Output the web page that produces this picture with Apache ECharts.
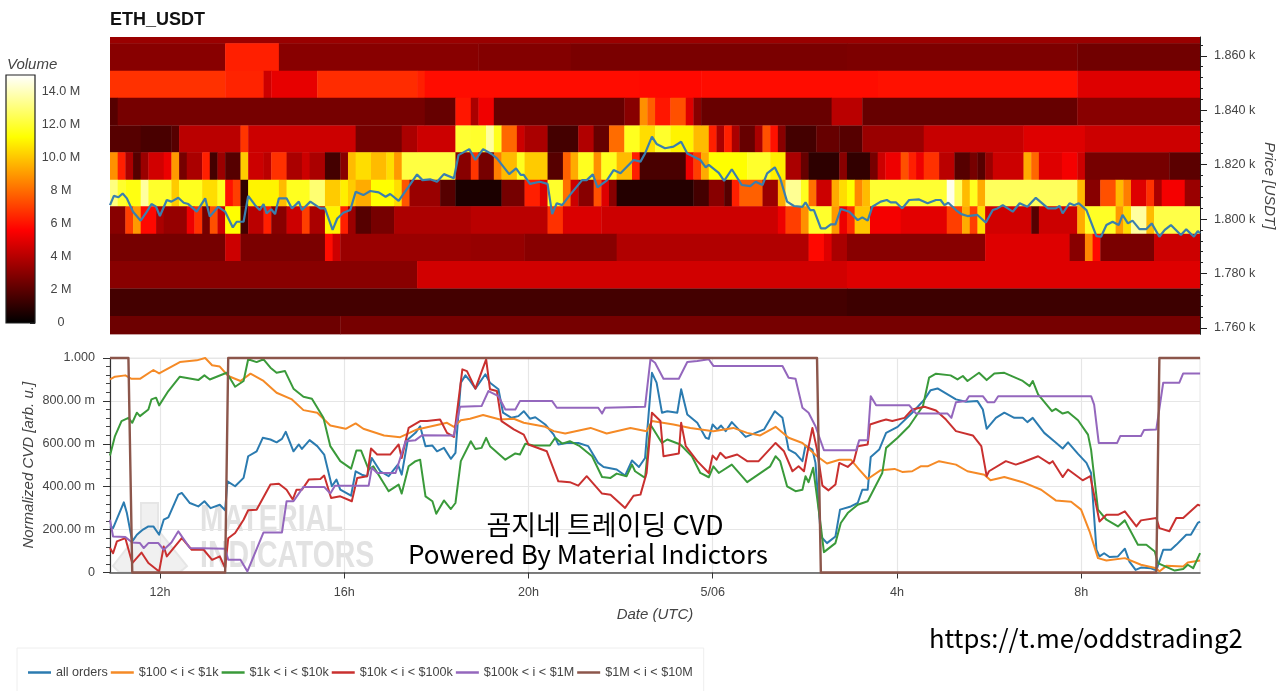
<!DOCTYPE html>
<html><head><meta charset="utf-8">
<style>html,body{margin:0;padding:0;background:#fff}#c{width:1280px;height:691px}</style>
<script src="https://cdn.jsdelivr.net/npm/echarts@6/dist/echarts.min.js"></script>
</head><body><div id="c"></div>
<script>
// Time: hours since 00:00 on 5/05; data are addressed by 10-minute bin since the first bin.
const firstHour = 10.915;
const lastHour = 34.58;
const timeTicks = [12,16,20,24,28,32];
const timeLabels = ['12h','16h','20h','5/06','4h','8h'];
const priceMin = 1757.6, priceMax = 1866.9;
const priceMajor = [1760,1780,1800,1820,1840,1860];
const priceMinor = [1760,1764,1768,1772,1776,1780,1784,1788,1792,1796,1800,1804,1808,1812,1816,1820,1824,1828,1832,1836,1840,1844,1848,1852,1856,1860,1864];
const volumeTicks = [0,2e6,4e6,6e6,8e6,10e6,12e6,14e6];
const volumeMax = 15e6;
const cvdLabels = {0:'0',0.2:'200.00 m',0.4:'400.00 m',0.6:'600.00 m',0.8:'800.00 m',1:'1.000'};
// price-bin edges, top to bottom
const rowEdges = [1866.9,1864.6,1854.5,1844.6,1834.4,1824.5,1814.4,1804.7,1794.6,1784.6,1774.5,1764.4,1757.6];
// each row: [end bin, volume in M] runs
const rowTop = [[142,3.4]];
const row1860 = [[15,3],[22,6.3],[48,3],[60,2.9],[96,2.7],[126,2.75],[142,2.5]];
const row1850 = [[15,6.7],[20,6.4],[21,4.5],[27,5.1],[40,6.6],[41,6.3],[69,5.9],[77,5.8],[100,5.9],[126,6],[142,4.9]];
const row1840 = [[1,1.9],[41,2.6],[45,2.25],[47,6.1],[48,3.75],[50,5.3],[67,2.25],[69,3],[70,8.8],[71,7.7],[73,6.1],[75,7.4],[76,4.9],[77,3],[94,2.3],[98,4.1],[126,2.25],[142,3]];
const row1830 = [[4,1.9],[8,1.6],[9,1.9],[17,4.1],[18,6.8],[32,4.5],[38,2.6],[40,3.75],[45,4.5],[47,12],[49,11.9],[50,13.6],[51,11.7],[53,7.9],[54,4.5],[57,3.75],[61,1.5],[63,3.9],[65,2.25],[67,8],[69,11.7],[71,10.5],[73,11.9],[76,11],[78,9.75],[79,6.3],[80,3.75],[81,6.3],[82,3.75],[84,2.25],[85,3.75],[86,7.4],[87,6],[88,3],[92,1.5],[95,2.25],[98,1.9],[106,3.4],[119,4.4],[127,4.9],[142,4.5]];
const row1820 = [[1,8.8],[2,6.3],[3,3.75],[4,1.9],[5,3.4],[7,4.6],[8,5.2],[9,9],[10,2.6],[12,3.75],[13,6.3],[14,1.5],[15,3.4],[17,1.9],[18,10.1],[20,4.5],[21,4.1],[23,6.7],[25,3.75],[26,4.5],[28,3.75],[30,1.5],[31,3],[32,9.75],[34,10.5],[36,9.75],[37,10.5],[38,9],[45,12.2],[47,3],[48,6.8],[50,2.6],[51,8.4],[53,9.75],[54,11.7],[57,10.1],[59,1.9],[60,7.75],[61,9.4],[63,11.7],[64,8.8],[66,11.7],[68,9.75],[69,6.3],[75,1.6],[76,5.25],[77,7],[78,9.4],[83,11.25],[86,11.9],[88,10.9],[90,3.75],[91,2.25],[95,1],[96,3],[99,1.1],[100,2.6],[101,4.5],[103,5.25],[104,7.4],[105,6.3],[106,5.25],[108,6.7],[110,4.1],[112,1.9],[113,2.6],[114,1.9],[115,3.4],[119,4.5],[120,9.4],[121,7.9],[124,4.9],[126,5.4],[127,4.5],[138,2.6],[142,2]];
const row1810 = [[1,13.1],[2,11.9],[4,11.5],[5,13.6],[8,11.9],[9,10.1],[12,11.7],[14,10.5],[15,11.7],[16,6],[17,7],[18,1.1],[22,11],[23,9.75],[26,11.7],[28,12.9],[30,10.1],[31,10.9],[32,10.1],[34,9.4],[37,11.25],[38,10.5],[39,7.5],[43,3.4],[45,1.9],[51,.6],[54,2.6],[56,6.3],[57,4.9],[59,11.9],[60,8.1],[61,4.5],[63,3],[64,7.4],[65,4.9],[66,3],[76,.8],[78,1.5],[80,3],[81,1.9],[82,6.3],[85,7.75],[87,3.4],[88,9.4],[90,13.4],[91,11.7],[92,8.1],[94,4.5],[95,9.4],[96,10.5],[97,11.25],[98,8.6],[99,9.75],[109,12],[110,14.7],[111,12.6],[112,9.75],[113,11.7],[114,9.4],[126,12.6],[127,9.75],[129,3],[131,7.4],[132,9.75],[133,8.4],[135,4.9],[136,6.7],[137,3.75],[140,5.4],[142,3.4]];
const row1800 = [[2,3],[3,7],[4,9],[6,5.8],[7,3.75],[10,3.3],[11,5.25],[12,6.7],[13,2.6],[14,7.4],[15,4.5],[17,11.25],[18,1.5],[20,4.1],[21,6.3],[23,3],[25,4.5],[26,7],[28,3.75],[30,11],[31,6.3],[32,3.4],[34,1.9],[37,2.6],[47,3.8],[57,4.1],[59,6.7],[64,4.8],[87,4.5],[88,5.25],[90,7],[91,8.8],[94,11.9],[95,9],[96,5.25],[97,6.6],[99,10],[103,5.4],[109,5],[111,7],[112,9.4],[113,7],[114,10.5],[120,4.6],[121,1.9],[126,4.5],[127,9.4],[131,11.8],[132,9],[133,10.5],[135,13.6],[136,9.75],[142,12.3]];
const row1790 = [[15,2.6],[17,4.5],[28,2.7],[29,5.9],[30,4.5],[47,3.4],[54,3.3],[66,3],[91,3.9],[93,5.8],[94,4.9],[96,3.75],[114,3],[125,4.9],[127,3],[128,8.6],[129,5.8],[136,2.7],[142,4.5]];
const row1780 = [[40,3],[96,4.6],[142,4.9]];
const row1770 = [[96,1.5],[142,1.35]];
const row1760 = [[30,2.4],[142,2.6]];
const heatRows = [rowTop,row1860,row1850,row1840,row1830,row1820,row1810,row1800,row1790,row1780,row1770,row1760];
// price line [bin, USDT]
const priceLine = [[0,1805.1],[.5,1808.5],[1.1,1808],[1.65,1809.4],[2.2,1807.6],[3,1802.7],[4,1799.4],[4.8,1802.7],[5.4,1805.5],[6,1804.5],[6.5,1801.1],[7.4,1807],[8,1806.4],[8.9,1807.8],[9.6,1806],[10.2,1805.5],[11.3,1802.7],[12.4,1807.6],[13,1800.9],[14.1,1804.5],[15,1802.7],[16,1796.9],[16.5,1799],[17.4,1799],[18,1808.5],[18.9,1805.1],[19.5,1803.3],[20,1805.5],[20.4,1802.1],[21,1803.6],[21.5,1801.8],[22,1807.6],[23,1807.6],[23.7,1803.9],[24.6,1806.4],[25,1803.3],[26.1,1806.4],[27.4,1803.9],[28,1803.9],[29,1796],[29.6,1800.2],[30.4,1802.3],[31.3,1803.3],[32,1810],[33,1808.8],[33.9,1810.3],[35,1809.8],[35.9,1808.2],[36.5,1809.2],[37.6,1806.7],[38.9,1811.9],[40,1816.4],[40.7,1814.3],[41.7,1814.6],[42.6,1813.7],[43.5,1816.5],[44.8,1815],[45.4,1823.5],[46.8,1825.7],[47.6,1821.7],[48.6,1825.7],[49.7,1823.9],[50.4,1822.3],[52,1816.5],[52.9,1818.6],[53.5,1816.2],[53.9,1816.2],[54.7,1812.9],[56,1813.7],[57,1812.9],[57.6,1801.8],[58.2,1805.8],[58.9,1805.1],[59.9,1808.8],[61.5,1814.3],[62.1,1814.3],[62.9,1816.4],[63.5,1811.6],[64.7,1814.1],[65.6,1818],[66.5,1816.8],[68.2,1821.7],[69.1,1821.1],[69.7,1824.1],[70.6,1830.3],[71.2,1827.6],[72.3,1826],[73.4,1826.6],[74.4,1828.4],[75.2,1824.1],[76.9,1821.7],[77.6,1819],[78,1819.9],[79.3,1817],[80,1814],[81,1818.3],[82.3,1812.5],[83.4,1812.1],[84.1,1813.7],[85,1812.5],[85.6,1816.8],[86.6,1819],[87.3,1815],[88.2,1806.4],[89.1,1804.8],[90.2,1804.5],[90.6,1806.1],[91.2,1803.3],[91.7,1803.3],[92.6,1796.6],[93.2,1796.6],[93.9,1798],[94.5,1798],[95.2,1803.7],[96.3,1802.7],[97.4,1799.6],[98,1800.6],[98.7,1799.4],[99.3,1804.5],[100.4,1806.4],[101.2,1807],[101.7,1806.1],[102.4,1806.1],[103.2,1803.9],[104.1,1807],[105.4,1807.2],[106.5,1805.8],[107.6,1807],[108.2,1807],[108.7,1805.1],[109.2,1806],[110.2,1803.3],[110.9,1801.8],[111.7,1801.1],[113,1801.5],[114.1,1798.7],[115,1803.3],[115.6,1803.9],[116.3,1805.1],[117.6,1802.7],[118.5,1805.8],[119.5,1804.5],[120.6,1807.8],[122.2,1803.9],[123.2,1803.9],[123.7,1804.8],[124.1,1802.1],[125,1805.8],[125.6,1805.1],[126.2,1805.8],[127.2,1803.3],[128.5,1793.7],[129.1,1793.5],[129.8,1797.8],[130.6,1799],[131.4,1797.8],[131.9,1801.5],[132.6,1798.4],[133.2,1799.4],[134.1,1796.3],[135,1796.3],[135.7,1798.4],[136.7,1793.5],[137.4,1796],[138.2,1797.8],[139.5,1794.1],[140.2,1796.2],[141.2,1793.5],[141.7,1795.6],[142,1794.8]];
// normalized CVD [bin, value]
const allOrders = [[0,.215],[.4,.207],[1.8,.327],[2.2,.277],[2.9,.145],[3.5,.176],[4.3,.2],[5,.215],[5.65,.215],[6.4,.176],[7,.246],[7.6,.257],[8.9,.363],[9.35,.371],[10.4,.324],[11.5,.308],[12.3,.332],[13.1,.3],[14.3,.316],[15,.29],[15.3,.425],[16.3,.402],[17.4,.441],[18,.542],[19.1,.565],[19.9,.628],[20.9,.62],[21.7,.607],[22.4,.623],[22.9,.656],[23.9,.565],[24.6,.597],[25,.576],[26,.617],[27,.589],[27.9,.55],[28.9,.402],[29.5,.433],[30,.386],[31.4,.358],[32,.472],[32.8,.456],[33.5,.449],[34.1,.534],[35.2,.472],[36.3,.449],[37.5,.503],[38,.456],[38.8,.62],[39.8,.651],[40.4,.682],[41.1,.589],[42,.592],[42.6,.565],[43.5,.581],[44.4,.53],[45,.558],[45.7,.885],[46.3,.919],[46.9,.893],[47.6,.857],[48.9,.924],[49.5,.885],[50.6,.854],[51.2,.745],[52.3,.721],[53.2,.729],[53.9,.752],[54.7,.717],[55.4,.724],[56.7,.69],[57.8,.643],[58.4,.597],[59.5,.604],[61,.604],[62.3,.589],[63.6,.511],[64.3,.492],[66,.48],[67.1,.452],[68,.522],[68.9,.492],[69.7,.534],[70.6,.931],[71.2,.885],[71.9,.745],[72.6,.752],[73.9,.745],[74.4,.854],[75.2,.737],[76.5,.698],[77.6,.628],[78,.623],[78.5,.69],[79.1,.667],[79.6,.685],[80.2,.659],[81,.701],[82.8,.632],[84.1,.651],[85.2,.667],[86.6,.752],[87.6,.721],[88.4,.573],[89.3,.555],[90.2,.519],[90.6,.592],[91.5,.573],[91.9,.511],[92.6,.168],[93.4,.137],[94.5,.168],[95.1,.293],[96.5,.308],[97.4,.324],[98,.386],[98.7,.386],[99.1,.539],[100.2,.573],[101.1,.651],[102.6,.679],[104.5,.745],[106.1,.807],[106.9,.85],[107.8,.858],[110.2,.807],[111.5,.796],[113,.799],[113.7,.76],[114.2,.67],[115.4,.721],[116.5,.745],[117.8,.721],[118.9,.721],[119.5,.701],[120.2,.721],[121.7,.651],[123,.612],[124.1,.578],[124.8,.607],[126.1,.553],[127.2,.511],[127.8,.464],[128.5,.106],[128.9,.075],[129.5,.09],[130.2,.072],[131.3,.075],[132.2,.111],[132.8,.051],[133.6,.012],[134.3,.023],[135.6,.02],[136.3,.01],[137.2,.106],[138.2,.106],[138.9,.129],[140.2,.176],[140.8,.176],[141.7,.231],[142,.237]];
const from100 = [[0,.9],[.65,.913],[2,.919],[2.8,.903],[3.9,.903],[5.65,.944],[6.4,.928],[9.1,.981],[11.3,.989],[12.4,1],[13.3,.966],[14.3,.96],[15.4,.916],[17,.893],[18.3,.927],[20,.893],[21.7,.838],[23.7,.807],[25.2,.757],[27,.745],[28.7,.685],[30.7,.67],[32,.695],[33,.67],[35.7,.639],[37.8,.631],[40,.667],[43.9,.698],[44.8,.679],[45.7,.71],[46.9,.717],[48.6,.734],[50.8,.713],[52.6,.717],[53.9,.698],[56.7,.679],[57.8,.659],[59.3,.648],[62.6,.674],[64.7,.648],[67.8,.674],[69.9,.659],[70.6,.706],[73.4,.69],[75.6,.674],[78.6,.659],[81.2,.674],[83,.651],[84.7,.639],[86.7,.679],[88.4,.628],[90.2,.604],[92.1,.542],[93.4,.508],[95,.526],[96.5,.526],[97.6,.48],[98.7,.436],[100.4,.477],[102.2,.483],[103.2,.469],[104.5,.472],[105.6,.495],[106.5,.495],[108,.519],[110.2,.503],[111.7,.472],[113.9,.456],[114.7,.43],[116.5,.445],[118.9,.421],[121.3,.386],[123.2,.336],[125.2,.33],[126.5,.293],[127.6,.192],[128.7,.067],[129.8,.056],[132.2,.067],[134.3,.036],[136.3,.02],[136.7,.005],[137.6,.031],[139.8,.028],[140.4,.047],[142,.056]];
const from1k = [[0,.545],[.65,.636],[1.5,.706],[2.4,.721],[2.9,.698],[3.5,.745],[3.9,.729],[5,.76],[5.4,.807],[6,.815],[6.4,.779],[7.6,.846],[9.1,.913],[11.5,.897],[12.3,.919],[13,.9],[15.2,.931],[16.3,.866],[17.4,.893],[18,.994],[19.1,.981],[20,.994],[20.9,.955],[21.7,.931],[22.8,.939],[23.9,.857],[25.2,.819],[26.3,.81],[27.8,.721],[28.7,.589],[30,.519],[31.4,.484],[32.1,.569],[32.7,.569],[33.7,.48],[34.3,.495],[36.3,.379],[37.6,.41],[38,.368],[38.9,.495],[39.8,.519],[40.4,.526],[41.1,.355],[42,.332],[42.5,.274],[43.5,.336],[44.4,.296],[45,.324],[45.7,.519],[47,.612],[47.6,.576],[48.4,.581],[49,.628],[49.5,.589],[51.5,.526],[52.8,.555],[53.4,.55],[54.1,.6],[55.2,.592],[57.3,.592],[58,.628],[58.9,.601],[59.9,.612],[61.2,.589],[62.8,.542],[64.1,.445],[65.2,.441],[66,.461],[67.3,.449],[68,.503],[68.4,.472],[69.7,.441],[70.4,.69],[71.9,.604],[72.6,.62],[74.3,.597],[75.8,.542],[76.9,.464],[78,.444],[78.6,.495],[79.3,.464],[81,.503],[83,.421],[86,.495],[86.7,.542],[87.3,.519],[88.2,.402],[89.3,.379],[90.2,.386],[90.6,.449],[91,.421],[91.6,.488],[92.6,.215],[93,.095],[94.5,.137],[95.2,.231],[96.1,.277],[97.4,.316],[98.7,.332],[100.6,.464],[101.1,.581],[102.6,.628],[104.1,.682],[105.9,.776],[106.7,.908],[107.6,.927],[109.5,.919],[110.4,.9],[111.1,.916],[111.7,.893],[113.2,.931],[114.2,.897],[115.2,.928],[116.5,.931],[118.9,.893],[119.8,.869],[120.2,.893],[120.9,.83],[122.7,.752],[123.2,.763],[124.1,.741],[124.8,.748],[126.1,.71],[127.4,.643],[127.8,.573],[128.7,.293],[129.8,.246],[131.3,.215],[132.2,.243],[133.9,.129],[135,.129],[136.1,.098],[136.5,.044],[138.7,.009],[139.8,.016],[140.4,.036],[141.1,.02],[142,.09]];
const from10k = [[0,.114],[.4,.09],[.9,.145],[2,.16],[2.9,.044],[4.1,.093],[5,.044],[6.4,.005],[7,.121],[7.4,.075],[9.35,.16],[10.65,.106],[12.2,.106],[13.3,.059],[14.3,.075],[15,.02],[15.4,.16],[16.3,.184],[17.4,.246],[18,.29],[19.1,.293],[20.9,.41],[22,.414],[23,.386],[23.8,.34],[24.3,.386],[25,.386],[25.9,.433],[27.4,.436],[27.9,.452],[28.8,.347],[30,.355],[31.5,.332],[32.2,.441],[33.5,.449],[34,.578],[34.8,.55],[36.5,.55],[37.6,.597],[38,.534],[38.9,.674],[40.4,.706],[41.3,.706],[43,.713],[43.9,.651],[44.8,.632],[45.9,.947],[46.5,.939],[47.6,.857],[49,.994],[49.5,.854],[50.4,.846],[51,.706],[52.6,.667],[53.9,.643],[54.5,.597],[56.9,.565],[58.4,.425],[59.9,.421],[61,.405],[62.1,.449],[64.1,.368],[65.2,.363],[67.1,.301],[68.2,.358],[69.1,.363],[69.9,.464],[70.6,.745],[71.7,.706],[72.1,.542],[74.1,.555],[74.4,.698],[75,.589],[76.5,.519],[78,.464],[78.5,.545],[79,.526],[79.5,.558],[80.2,.534],[81.7,.55],[83,.519],[84.5,.519],[86.7,.604],[87.8,.565],[88.9,.472],[89.7,.495],[90.4,.472],[90.8,.55],[91.5,.674],[92.1,.573],[92.8,.405],[93.6,.383],[94.5,.41],[95,.511],[96.1,.492],[96.9,.519],[97.4,.589],[98.7,.597],[99,.69],[100.4,.706],[101.1,.713],[101.9,.706],[103.5,.721],[104.5,.76],[106.1,.773],[107.6,.755],[108.9,.713],[110.2,.659],[112.4,.639],[113.5,.589],[114.2,.449],[114.5,.472],[116.7,.519],[118,.503],[118.9,.514],[120.9,.542],[122.4,.508],[122.8,.519],[124.1,.445],[124.8,.48],[126.7,.43],[127.7,.449],[128.9,.238],[129.8,.269],[131.3,.269],[132.2,.285],[133.7,.215],[134.3,.243],[136.3,.254],[136.7,.207],[138,.192],[138.9,.254],[139.8,.254],[141.7,.316],[142,.312]];
const from100k = [[0,.246],[.4,.168],[2,.165],[2.9,.14],[3.9,.137],[4.4,.114],[5,.137],[6.3,.137],[7,.106],[8,.14],[8.9,.192],[10.4,.114],[15,.111],[15.4,.059],[17,.059],[17.9,.005],[20,.187],[22.4,.187],[23,.332],[23.9,.332],[25.2,.399],[27.9,.399],[28.7,.368],[29.3,.405],[33.7,.405],[34.1,.488],[34.8,.464],[37.2,.464],[38.5,.612],[39.8,.617],[40.65,.64],[44.8,.639],[45.6,.773],[48.4,.776],[49.3,.846],[50.6,.822],[51.5,.76],[52.8,.76],[53.4,.799],[57.6,.799],[58.2,.768],[63.6,.768],[64.1,.741],[64.5,.768],[69.7,.773],[70.4,.994],[71,.978],[72.1,.903],[74.1,.903],[75.2,.981],[76.5,.986],[78,.994],[78.6,.963],[87.6,.963],[88.4,.908],[89.3,.903],[90.2,.768],[91,.745],[91.9,.682],[93,.57],[97.2,.57],[97.6,.617],[98.7,.617],[99.1,.822],[99.8,.78],[104.1,.78],[105,.741],[109.1,.741],[109.6,.721],[110.2,.794],[111.5,.799],[111.9,.822],[113.7,.822],[114.3,.794],[115.2,.794],[115.7,.822],[127.8,.822],[128.2,.783],[128.8,.604],[131.2,.604],[131.6,.636],[134.3,.636],[134.7,.664],[136.3,.667],[137.2,.885],[139.3,.885],[139.8,.928],[142,.928]];
const from1M = [[0,1],[2.4,1],[2.9,0],[15,0],[15.4,1],[92.1,1],[92.6,0],[136.3,0],[136.7,1],[142,1]];
const seriesNames = ['all orders','$100 < i < $1k','$1k < i < $10k','$10k < i < $100k','$100k < i < $1M','$1M < i < $10M'];
const seriesColors = ['#2b7bb0','#f58a26','#3a9a3a','#c9302f','#9467bd','#8c564b'];
const cvdSeries = [allOrders,from100,from1k,from10k,from100k,from1M];

const hotStops = ['#000000','#550000','#aa0000','#ff0000','#ff5500','#ffaa00','#ffff00','#ffff80','#ffffff'];
const FONT = '"Liberation Sans", Helvetica, Arial, sans-serif';
const toHour = b => firstHour + b/6;
const heatData = [];
heatRows.forEach((runs,i)=>{
  let start = 0;
  runs.forEach(([end,m])=>{
    heatData.push([toHour(start),toHour(end),rowEdges[i+1],rowEdges[i],m*1e6]);
    start = end;
  });
});
const chart = echarts.init(document.getElementById('c'),null,{renderer:'canvas',width:1280,height:691});
const txt = '#444';
const tickFont = 12.6, nameFont = 15;
const option = {
  animation:false,
  backgroundColor:'#fff',
  textStyle:{fontFamily:FONT},
  title:{text:'ETH_USDT',left:105,top:6,textStyle:{fontSize:18,fontWeight:'bold',color:'#111',fontFamily:FONT}},
  visualMap:[{type:'continuous',show:false,seriesIndex:0,dimension:4,min:0,max:volumeMax,inRange:{color:hotStops}}],
  grid:[
    {left:110,width:1090,top:37,height:297.4,show:false,outerBoundsMode:'none'},
    {left:110,width:1090,top:358,height:214.5,show:true,borderColor:'#e6e6e6',borderWidth:1,backgroundColor:'transparent',outerBoundsMode:'none'},
    {left:6,width:29,top:75,height:248,show:true,borderColor:'#222',borderWidth:1.2,backgroundColor:'transparent',z:5,outerBoundsMode:'none'}
  ],
  xAxis:[
    {gridIndex:0,type:'value',min:firstHour,max:lastHour,show:false},
    {gridIndex:1,type:'value',min:firstHour,max:lastHour,
      axisLine:{show:true,onZero:false,lineStyle:{color:'#555',width:1.6}},
      axisTick:{show:true,length:6,customValues:timeTicks,lineStyle:{color:'#333'}},
      axisLabel:{customValues:timeTicks,margin:14,fontSize:tickFont,color:txt,fontFamily:FONT,
        formatter:v=>timeLabels[timeTicks.indexOf(Math.round(v))]||''},
      splitLine:{show:true,lineStyle:{color:'#e6e6e6',width:1.2}},
      name:'Date (UTC)',nameLocation:'middle',nameGap:35,nameMoveOverlap:false,
      nameTextStyle:{fontStyle:'italic',fontSize:nameFont,color:txt,fontFamily:FONT}},
    {gridIndex:2,type:'category',data:['v'],show:false}
  ],
  yAxis:[
    {gridIndex:0,type:'value',min:priceMin,max:priceMax,position:'right',
      axisLine:{show:true,lineStyle:{color:'#222',width:1}},
      axisTick:{show:true,length:7,customValues:priceMajor,lineStyle:{color:'#222'}},
      axisLabel:{customValues:priceMajor,margin:14,fontSize:tickFont,color:txt,fontFamily:FONT,
        formatter:v=>(v/1000).toFixed(3)+' k'},
      splitLine:{show:false},
      name:'Price [USDT]',nameLocation:'middle',nameGap:62,nameRotate:-90,nameMoveOverlap:false,
      nameTextStyle:{fontStyle:'italic',fontSize:nameFont,color:txt,fontFamily:FONT}},
    {gridIndex:0,type:'value',min:priceMin,max:priceMax,position:'right',
      axisLine:{show:false},
      axisTick:{show:true,length:3,customValues:priceMinor,lineStyle:{color:'#222'}},
      axisLabel:{show:false},splitLine:{show:false}},
    {gridIndex:1,type:'value',min:0,max:1,interval:0.2,
      axisLine:{show:true,lineStyle:{color:'#333',width:1.2}},
      axisTick:{show:true,length:7,lineStyle:{color:'#333'}},
      minorTick:{show:true,splitNumber:5,length:4,lineStyle:{color:'#444'}},
      axisLabel:{margin:15,fontSize:tickFont,color:txt,fontFamily:FONT,formatter:v=>cvdLabels[+v.toFixed(1)]},
      splitLine:{show:true,lineStyle:{color:'#e6e6e6',width:1.2}},
      name:'Normalized CVD [arb. u.]',nameLocation:'middle',nameGap:74,nameMoveOverlap:false,
      nameTextStyle:{fontStyle:'italic',fontSize:nameFont,color:txt,fontFamily:FONT}},
    {gridIndex:2,type:'value',min:0,max:volumeMax,position:'right',
      axisLine:{show:false},
      axisTick:{show:true,inside:true,length:5,customValues:volumeTicks,lineStyle:{color:'#222'}},
      axisLabel:{customValues:volumeTicks,margin:26,align:'center',fontSize:tickFont,color:txt,fontFamily:FONT,
        formatter:v=>v===0?'0':(v<1e7?(v/1e6)+' M':(v/1e6).toFixed(1)+' M')},
      splitLine:{show:false},
      name:'Volume',nameLocation:'end',nameGap:3,nameRotate:0,nameMoveOverlap:false,
      nameTextStyle:{fontStyle:'italic',fontSize:nameFont,color:txt,fontFamily:FONT,align:'left',padding:[0,0,0,-28]}}
  ],
  legend:{
    data:seriesNames,left:17,top:648,orient:'horizontal',
    icon:'rect',itemWidth:23,itemHeight:2.5,itemGap:3,
    padding:[18,11,14,11],borderColor:'#eeeeee',borderWidth:1,
    textStyle:{fontSize:tickFont,color:txt,fontFamily:FONT,padding:[0,0,0,0]},
    itemStyle:{borderWidth:0},lineStyle:{width:0}
  },
  graphic:[
    {type:'polygon',z:0,silent:true,shape:{points:[[141,503],[158,503],[158,530],[187,566],[180,572],[119,572],[113,566],[141,530]]},
      style:{fill:'#f0f0f0',stroke:'#e6e6e6',lineWidth:2}},
    {type:'text',z:0,silent:true,x:200,y:503,scaleX:.78,style:{text:'MATERIAL',font:'bold 36px '+FONT,fill:'#e2e2e2'}},
    {type:'text',z:0,silent:true,x:200,y:539,scaleX:.79,style:{text:'INDICATORS',font:'bold 36px '+FONT,fill:'#e2e2e2'}},
    {type:'text',z:50,silent:true,x:605,y:525,style:{text:'곰지네 트레이딩 CVD',font:'27px "Noto Sans CJK KR"',fill:'#000',align:'center',verticalAlign:'middle'}},
    {type:'text',z:50,silent:true,x:588,y:554,style:{text:'Powered By Material Indictors',font:'26px "Noto Sans CJK KR"',fill:'#000',align:'center',verticalAlign:'middle'}},
    {type:'text',z:50,silent:true,x:929,y:638,style:{text:'https://t.me/oddstrading2',font:'25.7px "Noto Sans CJK KR"',fill:'#000',align:'left',verticalAlign:'middle'}}
  ],
  series:[
    {type:'custom',xAxisIndex:0,yAxisIndex:0,data:heatData,encode:{x:[0,1],y:[2,3]},silent:true,z:1,clip:true,
      renderItem:(p,api)=>{
        const a=api.coord([api.value(0),api.value(3)]),b=api.coord([api.value(1),api.value(2)]);
        return {type:'rect',shape:{x:a[0],y:a[1],width:b[0]-a[0]+.4,height:b[1]-a[1]+.4},style:{fill:api.visual('color')}};
      }},
    {type:'line',name:'price',xAxisIndex:0,yAxisIndex:0,data:priceLine.map(([b,v])=>[toHour(b),v]),
      showSymbol:false,lineStyle:{color:'#3a7fae',width:2.2},z:3,silent:true},
    ...cvdSeries.map((d,i)=>({type:'line',name:seriesNames[i],xAxisIndex:1,yAxisIndex:2,
      data:d.map(([b,v])=>[toHour(b),v]),showSymbol:false,clip:false,silent:true,z:3+i,
      itemStyle:{color:seriesColors[i]},
      lineStyle:{color:seriesColors[i],width:i===5?2.4:2,join:'round'}})),
    {type:'bar',xAxisIndex:2,yAxisIndex:3,data:[volumeMax],barWidth:'100%',silent:true,z:1,
      itemStyle:{color:new echarts.graphic.LinearGradient(0,1,0,0,hotStops.map((c,i)=>({offset:i/(hotStops.length-1),color:c})))}}
  ]
};
chart.setOption(option);
</script></body></html>
